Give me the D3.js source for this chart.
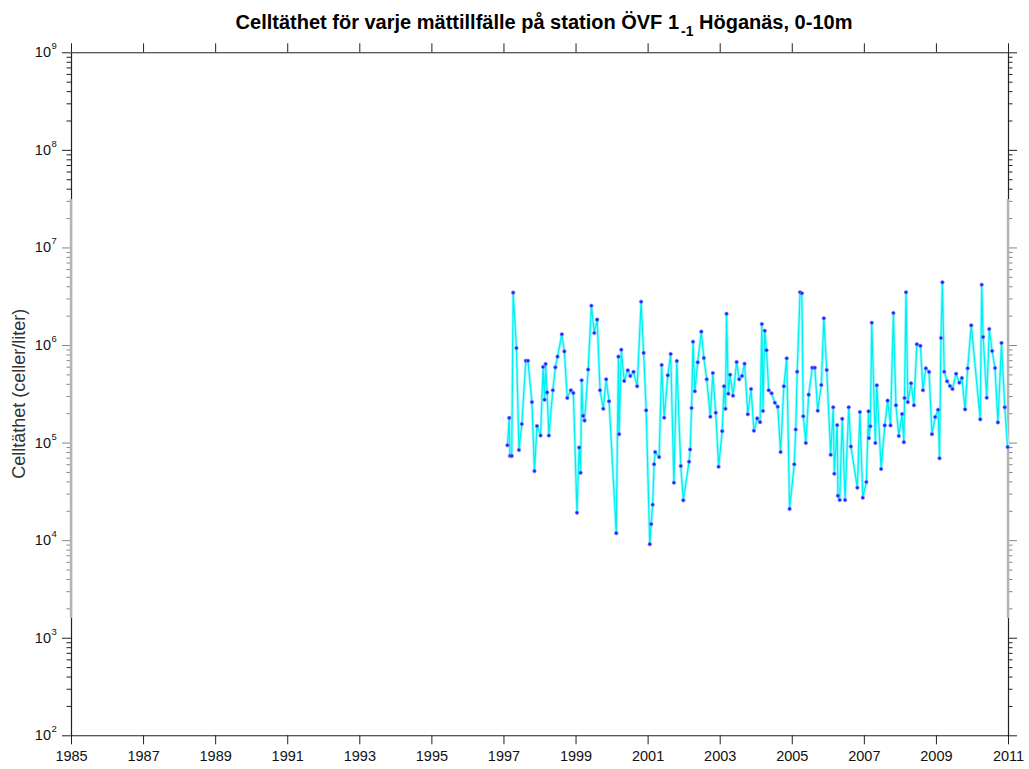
<!DOCTYPE html>
<html>
<head>
<meta charset="utf-8">
<script src="https://cdn.jsdelivr.net/npm/d3@7"></script>
<style>
  html, body { margin: 0; padding: 0; background: #fff; }
  svg { display: block; font-family: "Liberation Sans", Arial, sans-serif; }
</style>
</head>
<body>
<svg id="chart" width="1029" height="769"></svg>
<script>
// ---- data (decimal year of sampling, cells per litre) ----
const sampleDates = [
  1997.11, 1997.16, 1997.18, 1997.23, 1997.27, 1997.36, 1997.43, 1997.51, 1997.62, 1997.68,
  1997.79, 1997.86, 1997.93, 1998.03, 1998.10, 1998.14, 1998.17, 1998.21, 1998.26, 1998.37,
  1998.44, 1998.50, 1998.62, 1998.69, 1998.77, 1998.87, 1998.94, 1999.04, 1999.10, 1999.14,
  1999.17, 1999.21, 1999.25, 1999.35, 1999.44, 1999.52, 1999.60, 1999.68, 1999.77, 1999.85,
  1999.93, 2000.13, 2000.19, 2000.21, 2000.27, 2000.35, 2000.45, 2000.52, 2000.61, 2000.71,
  2000.82, 2000.89, 2000.96, 2001.06, 2001.10, 2001.14, 2001.18, 2001.21, 2001.32, 2001.39,
  2001.46, 2001.56, 2001.64, 2001.73, 2001.81, 2001.92, 2001.99, 2002.15, 2002.18, 2002.22,
  2002.26, 2002.31, 2002.39, 2002.49, 2002.56, 2002.64, 2002.74, 2002.81, 2002.89, 2002.97,
  2003.07, 2003.12, 2003.16, 2003.19, 2003.24, 2003.29, 2003.37, 2003.47, 2003.54, 2003.62,
  2003.69, 2003.78, 2003.87, 2003.95, 2004.04, 2004.12, 2004.17, 2004.20, 2004.25, 2004.30,
  2004.36, 2004.44, 2004.53, 2004.61, 2004.69, 2004.78, 2004.86, 2004.94, 2005.07, 2005.11,
  2005.15, 2005.23, 2005.28, 2005.32, 2005.39, 2005.47, 2005.57, 2005.64, 2005.72, 2005.82,
  2005.89, 2005.97, 2006.08, 2006.15, 2006.18, 2006.26, 2006.28, 2006.33, 2006.40, 2006.48,
  2006.58, 2006.64, 2006.82, 2006.89, 2006.97, 2007.07, 2007.13, 2007.14, 2007.18, 2007.22,
  2007.32, 2007.36, 2007.48, 2007.58, 2007.66, 2007.74, 2007.82, 2007.89, 2007.97, 2008.06,
  2008.11, 2008.13, 2008.17, 2008.22, 2008.31, 2008.39, 2008.47, 2008.57, 2008.64, 2008.72,
  2008.81, 2008.89, 2008.98, 2009.06, 2009.10, 2009.14, 2009.18, 2009.23, 2009.31, 2009.39,
  2009.46, 2009.56, 2009.65, 2009.72, 2009.81, 2009.88, 2009.98, 2010.23, 2010.27, 2010.31,
  2010.41, 2010.48, 2010.56, 2010.64, 2010.72, 2010.82, 2010.91, 2010.99
];
const cellDensity = [
  9.4e4, 1.79e5, 7.3e4, 7.3e4, 3.44e6, 9.3e5, 8.4e4, 1.55e5, 6.9e5, 6.9e5,
  2.6e5, 5.1e4, 1.48e5, 1.18e5, 5.96e5, 2.75e5, 6.4e5, 3.27e5, 1.18e5, 3.44e5,
  5.9e5, 7.6e5, 1.29e6, 8.6e5, 2.86e5, 3.44e5, 3.22e5, 1.91e4, 8.9e4, 4.9e4,
  4.35e5, 1.88e5, 1.68e5, 5.6e5, 2.53e6, 1.33e6, 1.82e6, 3.44e5, 2.22e5, 4.45e5,
  2.65e5, 1.18e4, 7.6e5, 1.22e5, 8.95e5, 4.28e5, 5.5e5, 4.81e5, 5.3e5, 3.78e5,
  2.78e6, 8.3e5, 2.14e5, 9.1e3, 1.46e4, 2.31e4, 6.0e4, 8.0e4, 7.1e4, 6.24e5,
  1.8e5, 4.89e5, 8.1e5, 3.88e4, 6.86e5, 5.75e4, 2.56e4, 6.37e4, 8.5e4, 2.26e5,
  1.08e6, 3.36e5, 6.65e5, 1.37e6, 7.36e5, 4.45e5, 1.84e5, 5.16e5, 2.02e5, 5.66e4,
  1.31e5, 3.78e5, 2.22e5, 2.09e6, 3.17e5, 4.96e5, 3.02e5, 6.7e5, 4.45e5, 4.81e5,
  6.43e5, 1.95e5, 3.54e5, 1.32e5, 1.77e5, 1.62e5, 1.64e6, 2.11e5, 1.4e6, 8.83e5,
  3.44e5, 3.2e5, 2.56e5, 2.33e5, 8.0e4, 3.78e5, 7.3e5, 2.09e4, 5.99e4, 1.36e5,
  5.33e5, 3.47e6, 3.39e6, 1.86e5, 9.9e4, 3.1e5, 5.85e5, 5.85e5, 2.12e5, 3.89e5,
  1.88e6, 5.55e5, 7.5e4, 2.3e5, 4.8e4, 1.51e5, 2.85e4, 2.58e4, 1.75e5, 2.58e4,
  2.3e5, 9.1e4, 3.45e4, 2.06e5, 2.72e4, 3.94e4, 2.09e5, 1.11e5, 1.47e5, 1.69e6,
  9.9e4, 3.86e5, 5.36e4, 1.5e5, 2.69e5, 1.5e5, 2.13e6, 2.41e5, 1.17e5, 1.96e5,
  1.01e5, 2.86e5, 3.47e6, 2.6e5, 4.05e5, 2.41e5, 1.02e6, 9.8e5, 3.44e5, 5.77e5,
  5.3e5, 1.22e5, 1.83e5, 2.17e5, 6.9e4, 1.18e6, 4.39e6, 5.33e5, 4.25e5, 3.8e5,
  3.54e5, 5.08e5, 4.11e5, 4.59e5, 2.19e5, 5.77e5, 1.59e6, 1.73e5, 4.15e6, 1.21e6,
  2.88e5, 1.46e6, 8.68e5, 5.81e5, 1.61e5, 1.05e6, 2.3e5, 9.0e4
];
const xTickYears = [1985, 1987, 1989, 1991, 1993, 1995, 1997, 1999, 2001, 2003, 2005, 2007, 2009, 2011];
const yDecadeExponents = [2, 3, 4, 5, 6, 7, 8, 9];
const titleMain = "Celltäthet för varje mättillfälle på station ÖVF 1";
const titleSub = "-1";
const titleTail = " Höganäs, 0-10m";
const yAxisLabel = "Celltäthet (celler/liter)";

// ---- layout ----
const L = 71, R = 1008, T = 52.3, B = 735.3;
const svg = d3.select("#chart");
const x = d3.scaleLinear().domain([1985, 2011]).range([L, R]);
const y = d3.scaleLog().domain([1e2, 1e9]).range([B, T]);
const axisColor = "#222";

const majorVals = yDecadeExponents.map(e => Math.pow(10, e));
const minorVals = [];
yDecadeExponents.slice(0, -1).forEach(e => {
  for (let m = 2; m <= 9; m++) minorVals.push(m * Math.pow(10, e));
});

function styleAxis(g) {
  g.selectAll("path.domain").attr("stroke", axisColor).attr("stroke-width", 1.1);
  g.selectAll(".tick line").attr("stroke", axisColor).attr("stroke-width", 1);
}

// bottom axis
const gB = svg.append("g").attr("transform", `translate(0,${B})`)
  .call(d3.axisBottom(x).tickValues(xTickYears).tickSize(9).tickSizeOuter(0).tickFormat(d3.format("d")).tickPadding(6));
styleAxis(gB);
gB.selectAll("text").attr("font-size", 14.5).attr("fill", "#111")
  .attr("font-family", "Liberation Sans, Arial, sans-serif");

// top axis
const gT = svg.append("g").attr("transform", `translate(0,${T})`)
  .call(d3.axisTop(x).tickValues(xTickYears).tickSize(9).tickSizeOuter(0).tickFormat(""));
styleAxis(gT);

// left axis
const gL = svg.append("g").attr("transform", `translate(${L},0)`)
  .call(d3.axisLeft(y).tickValues(majorVals).tickSize(9).tickSizeOuter(0).tickFormat(""));
styleAxis(gL);
const gLm = svg.append("g").attr("transform", `translate(${L},0)`)
  .call(d3.axisLeft(y).tickValues(minorVals).tickSize(4.5).tickSizeOuter(0).tickFormat(""));
styleAxis(gLm);

// right axis
const gR = svg.append("g").attr("transform", `translate(${R},0)`)
  .call(d3.axisRight(y).tickValues(majorVals).tickSize(9).tickSizeOuter(0).tickFormat(""));
styleAxis(gR);
const gRm = svg.append("g").attr("transform", `translate(${R},0)`)
  .call(d3.axisRight(y).tickValues(minorVals).tickSize(4.5).tickSizeOuter(0).tickFormat(""));
styleAxis(gRm);

// greyed band on both vertical axes (as in the reference picture)
[[L - 10, L + 1.5], [R - 1.5, R + 10]].forEach(([a, b]) => {
  svg.append("rect").attr("x", a).attr("y", 199).attr("width", b - a).attr("height", 419)
    .attr("fill", "#fff").attr("opacity", 0.45);
});
[L, R].forEach(xx => {
  svg.append("line").attr("x1", xx).attr("x2", xx).attr("y1", 199).attr("y2", 618)
    .attr("stroke", "#b4b4b4").attr("stroke-width", 2.4);
});

// y tick labels 10^n
const yl = svg.append("g");
yDecadeExponents.forEach(e => {
  const t = yl.append("text").attr("x", 51).attr("y", y(Math.pow(10, e)) + 5)
    .attr("text-anchor", "end").attr("font-size", 14.5).attr("fill", "#111");
  t.text("10");
  yl.append("text").attr("x", 51.5).attr("y", y(Math.pow(10, e)) - 3)
    .attr("font-size", 9.5).attr("fill", "#111").text(e);
});

// y axis title
svg.append("text").attr("transform", `translate(25,${(T + B) / 2}) rotate(-90)`)
  .attr("text-anchor", "middle").attr("font-size", 18).attr("fill", "#333").text(yAxisLabel);

// chart title
const title = svg.append("text").attr("x", 544).attr("y", 29).attr("text-anchor", "middle")
  .attr("font-size", 20).attr("font-weight", "bold").attr("fill", "#000");
title.append("tspan").text(titleMain);
title.append("tspan").attr("font-size", 14).attr("dy", 7).attr("dx", 2).text(titleSub);
title.append("tspan").attr("dy", -7).text(titleTail);

// data
const pts = sampleDates.map((d, i) => ({ d, v: cellDensity[i] }));
const line = d3.line().x(p => x(p.d)).y(p => y(p.v));
svg.append("path").datum(pts).attr("d", line).attr("fill", "none")
  .attr("stroke", "#a8fcff").attr("stroke-width", 3).attr("stroke-linejoin", "round");
svg.append("path").datum(pts).attr("d", line).attr("fill", "none")
  .attr("stroke", "#00f0f0").attr("stroke-width", 1.3).attr("stroke-linejoin", "round");
svg.append("g").selectAll("circle").data(pts).join("circle")
  .attr("cx", p => x(p.d)).attr("cy", p => y(p.v)).attr("r", 1.8)
  .attr("fill", "#2222ff").attr("stroke", "#8a8aff").attr("stroke-width", 0.6);
</script>
</body>
</html>
